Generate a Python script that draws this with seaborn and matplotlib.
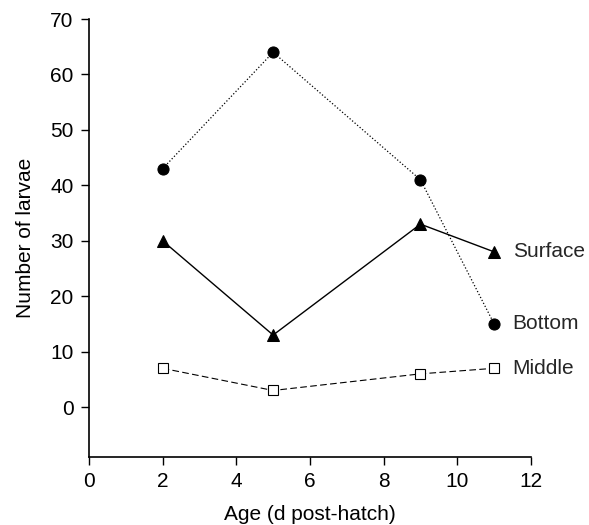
import matplotlib
matplotlib.use("Agg")
import matplotlib.pyplot as plt
import seaborn as sns
import pandas as pd

sns.set_style("ticks")
plt.rcParams['font.family'] = ['Liberation Sans', 'DejaVu Sans']

ages = [2, 5, 9, 11]
bottom = [43, 64, 41, 15]
surface = [30, 13, 33, 28]
middle = [7, 3, 6, 7]
series_names = ["Surface", "Bottom", "Middle"]
x_ticks = [0, 2, 4, 6, 8, 10, 12]
y_ticks = [0, 10, 20, 30, 40, 50, 60, 70]

fig = plt.figure(figsize=(5.89, 5.25), dpi=100)
ax = fig.add_axes([0.151, 0.1295, 0.7505, 0.8343])

styles = {
    "Bottom": dict(marker="o", linestyle=":", markersize=8, linewidth=0.9,
                   markerfacecolor="black", markeredgecolor="black"),
    "Surface": dict(marker="^", linestyle="-", markersize=8, linewidth=1.0,
                    markerfacecolor="black", markeredgecolor="black"),
    "Middle": dict(marker="s", linestyle=(0, (6, 3)), markersize=7, linewidth=0.8,
                   markerfacecolor="white", markeredgecolor="black", markeredgewidth=0.8),
}
data = {"Surface": surface, "Bottom": bottom, "Middle": middle}

fs = 15
for name in series_names:
    df = pd.DataFrame({"Age": ages, "N": data[name]})
    sns.lineplot(data=df, x="Age", y="N", ax=ax, color="black", **styles[name])
    ax.text(ages[-1] + 0.5, data[name][-1], name, va="center", ha="left", fontsize=fs)

ax.set_xlim(0, 12)
ax.set_ylim(-9, 70)
ax.set_xticks(x_ticks)
ax.set_yticks(y_ticks)
ax.tick_params(labelsize=fs, length=6, width=1, pad=5, color="black", labelcolor="black")
ax.set_xlabel("Age (d post-hatch)", fontsize=fs, color="black", labelpad=10)
ax.set_ylabel("Number of larvae", fontsize=fs, color="black", labelpad=11)
for s in ["top", "right"]:
    ax.spines[s].set_visible(False)
for s in ["left", "bottom"]:
    ax.spines[s].set_color("black")
    ax.spines[s].set_linewidth(1.2)

fig.savefig("out.png", dpi=100)
